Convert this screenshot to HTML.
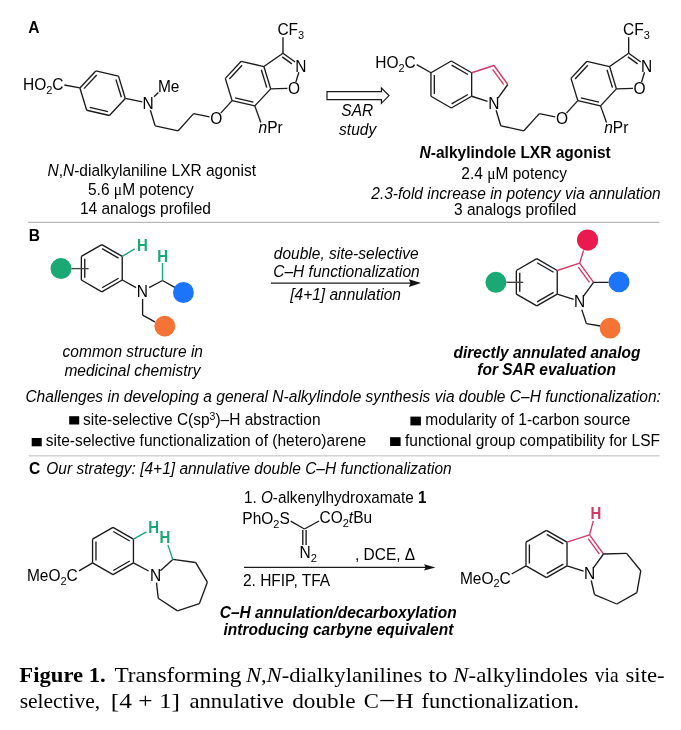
<!DOCTYPE html>
<html><head><meta charset="utf-8"><style>
html,body{margin:0;padding:0;background:#fff;}
svg{display:block;filter:blur(0.3px);}
text{font-family:"Liberation Sans",sans-serif;font-size:15.5px;fill:#000;}
.cap{font-family:"Liberation Serif",serif;font-size:22px;}
</style></head><body>
<svg width="681" height="730" viewBox="0 0 681 730">
<rect x="28" y="221.8" width="631.5" height="1" fill="#a8a8a8"/>
<rect x="28.8" y="455.1" width="630.7" height="1.4" fill="#cfcfcf"/>
<text transform="matrix(1,0,0,1.06,28.30,32.70)" style="font-size:15.6px;" font-weight="bold" >A</text>
<line x1="125.30" y1="98.44" x2="109.41" y2="115.48" stroke="#1a1a1a" stroke-width="1.35"/>
<line x1="109.41" y1="115.48" x2="86.71" y2="110.24" stroke="#1a1a1a" stroke-width="1.35"/>
<line x1="107.94" y1="111.65" x2="89.72" y2="107.45" stroke="#1a1a1a" stroke-width="1.35"/>
<line x1="86.71" y1="110.24" x2="79.90" y2="87.96" stroke="#1a1a1a" stroke-width="1.35"/>
<line x1="79.90" y1="87.96" x2="95.79" y2="70.92" stroke="#1a1a1a" stroke-width="1.35"/>
<line x1="83.95" y1="88.60" x2="96.71" y2="74.92" stroke="#1a1a1a" stroke-width="1.35"/>
<line x1="95.79" y1="70.92" x2="118.49" y2="76.16" stroke="#1a1a1a" stroke-width="1.35"/>
<line x1="118.49" y1="76.16" x2="125.30" y2="98.44" stroke="#1a1a1a" stroke-width="1.35"/>
<line x1="115.91" y1="79.35" x2="121.38" y2="97.24" stroke="#1a1a1a" stroke-width="1.35"/>
<text transform="matrix(1,0,0,1.06,23.00,90.10)" >HO<tspan font-size="11" dy="3.5">2</tspan><tspan dy="-3.5">​</tspan>C</text>
<line x1="64.40" y1="85.00" x2="79.90" y2="87.96" stroke="#1a1a1a" stroke-width="1.35"/>
<line x1="125.30" y1="98.44" x2="142.30" y2="101.80" stroke="#1a1a1a" stroke-width="1.35"/>
<line x1="154.00" y1="96.70" x2="158.40" y2="92.60" stroke="#1a1a1a" stroke-width="1.35"/>
<text transform="matrix(1,0,0,1.06,157.90,91.70)" >Me</text>
<text transform="matrix(1,0,0,1.06,148.20,109.00)" text-anchor="middle" >N</text>
<line x1="150.40" y1="110.27" x2="155.10" y2="125.80" stroke="#1a1a1a" stroke-width="1.35"/>
<line x1="155.10" y1="125.80" x2="178.20" y2="130.80" stroke="#1a1a1a" stroke-width="1.35"/>
<line x1="178.20" y1="130.80" x2="193.60" y2="113.60" stroke="#1a1a1a" stroke-width="1.35"/>
<line x1="193.60" y1="113.60" x2="209.54" y2="116.84" stroke="#1a1a1a" stroke-width="1.35"/>
<text transform="matrix(1,0,0,1.06,216.20,124.30)" text-anchor="middle" >O</text>
<line x1="270.70" y1="88.84" x2="254.81" y2="105.88" stroke="#1a1a1a" stroke-width="1.35"/>
<line x1="254.81" y1="105.88" x2="232.11" y2="100.64" stroke="#1a1a1a" stroke-width="1.35"/>
<line x1="253.34" y1="102.05" x2="235.12" y2="97.85" stroke="#1a1a1a" stroke-width="1.35"/>
<line x1="232.11" y1="100.64" x2="225.30" y2="78.36" stroke="#1a1a1a" stroke-width="1.35"/>
<line x1="225.30" y1="78.36" x2="241.19" y2="61.32" stroke="#1a1a1a" stroke-width="1.35"/>
<line x1="229.35" y1="79.00" x2="242.11" y2="65.32" stroke="#1a1a1a" stroke-width="1.35"/>
<line x1="241.19" y1="61.32" x2="263.89" y2="66.56" stroke="#1a1a1a" stroke-width="1.35"/>
<line x1="263.89" y1="66.56" x2="270.70" y2="88.84" stroke="#1a1a1a" stroke-width="1.35"/>
<line x1="261.31" y1="69.75" x2="266.78" y2="87.64" stroke="#1a1a1a" stroke-width="1.35"/>
<line x1="220.77" y1="113.16" x2="232.11" y2="100.64" stroke="#1a1a1a" stroke-width="1.35"/>
<line x1="263.89" y1="66.56" x2="282.98" y2="53.20" stroke="#1a1a1a" stroke-width="1.35"/>
<line x1="282.98" y1="53.20" x2="295.13" y2="61.99" stroke="#1a1a1a" stroke-width="1.35"/>
<line x1="282.20" y1="56.83" x2="291.92" y2="63.87" stroke="#1a1a1a" stroke-width="1.35"/>
<line x1="298.87" y1="72.31" x2="295.83" y2="82.09" stroke="#1a1a1a" stroke-width="1.35"/>
<line x1="287.40" y1="88.45" x2="270.70" y2="88.84" stroke="#1a1a1a" stroke-width="1.35"/>
<text transform="matrix(1,0,0,1.06,300.80,72.10)" text-anchor="middle" >N</text>
<text transform="matrix(1,0,0,1.06,293.90,94.20)" text-anchor="middle" >O</text>
<line x1="282.98" y1="53.20" x2="282.98" y2="37.20" stroke="#1a1a1a" stroke-width="1.35"/>
<text transform="matrix(1,0,0,1.06,277.40,35.40)" >CF<tspan font-size="11" dy="3.5">3</tspan><tspan dy="-3.5">​</tspan></text>
<line x1="254.81" y1="105.88" x2="260.80" y2="122.60" stroke="#1a1a1a" stroke-width="1.35"/>
<text transform="matrix(1,0,0,1.06,258.50,133.30)" ><tspan font-style="italic">n</tspan>Pr</text>
<g transform="translate(345.7,0)">
<text transform="matrix(1,0,0,1.06,148.20,109.00)" text-anchor="middle" >N</text>
<line x1="150.40" y1="110.27" x2="155.10" y2="125.80" stroke="#1a1a1a" stroke-width="1.35"/>
<line x1="155.10" y1="125.80" x2="178.20" y2="130.80" stroke="#1a1a1a" stroke-width="1.35"/>
<line x1="178.20" y1="130.80" x2="193.60" y2="113.60" stroke="#1a1a1a" stroke-width="1.35"/>
<line x1="193.60" y1="113.60" x2="209.54" y2="116.84" stroke="#1a1a1a" stroke-width="1.35"/>
<text transform="matrix(1,0,0,1.06,216.20,124.30)" text-anchor="middle" >O</text>
<line x1="270.70" y1="88.84" x2="254.81" y2="105.88" stroke="#1a1a1a" stroke-width="1.35"/>
<line x1="254.81" y1="105.88" x2="232.11" y2="100.64" stroke="#1a1a1a" stroke-width="1.35"/>
<line x1="253.34" y1="102.05" x2="235.12" y2="97.85" stroke="#1a1a1a" stroke-width="1.35"/>
<line x1="232.11" y1="100.64" x2="225.30" y2="78.36" stroke="#1a1a1a" stroke-width="1.35"/>
<line x1="225.30" y1="78.36" x2="241.19" y2="61.32" stroke="#1a1a1a" stroke-width="1.35"/>
<line x1="229.35" y1="79.00" x2="242.11" y2="65.32" stroke="#1a1a1a" stroke-width="1.35"/>
<line x1="241.19" y1="61.32" x2="263.89" y2="66.56" stroke="#1a1a1a" stroke-width="1.35"/>
<line x1="263.89" y1="66.56" x2="270.70" y2="88.84" stroke="#1a1a1a" stroke-width="1.35"/>
<line x1="261.31" y1="69.75" x2="266.78" y2="87.64" stroke="#1a1a1a" stroke-width="1.35"/>
<line x1="220.77" y1="113.16" x2="232.11" y2="100.64" stroke="#1a1a1a" stroke-width="1.35"/>
<line x1="263.89" y1="66.56" x2="282.98" y2="53.20" stroke="#1a1a1a" stroke-width="1.35"/>
<line x1="282.98" y1="53.20" x2="295.13" y2="61.99" stroke="#1a1a1a" stroke-width="1.35"/>
<line x1="282.20" y1="56.83" x2="291.92" y2="63.87" stroke="#1a1a1a" stroke-width="1.35"/>
<line x1="298.87" y1="72.31" x2="295.83" y2="82.09" stroke="#1a1a1a" stroke-width="1.35"/>
<line x1="287.40" y1="88.45" x2="270.70" y2="88.84" stroke="#1a1a1a" stroke-width="1.35"/>
<text transform="matrix(1,0,0,1.06,300.80,72.10)" text-anchor="middle" >N</text>
<text transform="matrix(1,0,0,1.06,293.90,94.20)" text-anchor="middle" >O</text>
<line x1="282.98" y1="53.20" x2="282.98" y2="37.20" stroke="#1a1a1a" stroke-width="1.35"/>
<text transform="matrix(1,0,0,1.06,277.40,35.40)" >CF<tspan font-size="11" dy="3.5">3</tspan><tspan dy="-3.5">​</tspan></text>
<line x1="254.81" y1="105.88" x2="260.80" y2="122.60" stroke="#1a1a1a" stroke-width="1.35"/>
<text transform="matrix(1,0,0,1.06,258.50,133.30)" ><tspan font-style="italic">n</tspan>Pr</text>
</g>
<polygon points="327,91.6 381.4,91.6 381.4,88 389,95.6 381.4,103.3 381.4,99.6 327,99.6" fill="#fff" stroke="#1a1a1a" stroke-width="1.2" stroke-linejoin="miter"/>
<text transform="matrix(1,0,0,1.06,357.30,116.40)" font-style="italic" text-anchor="middle" >SAR</text>
<text transform="matrix(1,0,0,1.06,357.60,134.60)" font-style="italic" text-anchor="middle" >study</text>
<line x1="451.30" y1="61.00" x2="471.65" y2="72.75" stroke="#1a1a1a" stroke-width="1.35"/>
<line x1="451.59" y1="65.09" x2="467.96" y2="74.54" stroke="#1a1a1a" stroke-width="1.35"/>
<line x1="471.65" y1="72.75" x2="471.65" y2="96.25" stroke="#1a1a1a" stroke-width="1.35"/>
<line x1="471.65" y1="96.25" x2="451.30" y2="108.00" stroke="#1a1a1a" stroke-width="1.35"/>
<line x1="467.96" y1="94.46" x2="451.59" y2="103.91" stroke="#1a1a1a" stroke-width="1.35"/>
<line x1="451.30" y1="108.00" x2="430.95" y2="96.25" stroke="#1a1a1a" stroke-width="1.35"/>
<line x1="430.95" y1="96.25" x2="430.95" y2="72.75" stroke="#1a1a1a" stroke-width="1.35"/>
<line x1="434.35" y1="93.95" x2="434.35" y2="75.05" stroke="#1a1a1a" stroke-width="1.35"/>
<line x1="430.95" y1="72.75" x2="451.30" y2="61.00" stroke="#1a1a1a" stroke-width="1.35"/>
<text transform="matrix(1,0,0,1.06,415.80,68.00)" text-anchor="end" >HO<tspan font-size="11" dy="3.5">2</tspan><tspan dy="-3.5">​</tspan>C</text>
<line x1="416.70" y1="64.70" x2="430.95" y2="72.75" stroke="#1a1a1a" stroke-width="1.35"/>
<line x1="471.65" y1="72.75" x2="494.00" y2="65.49" stroke="#d03a66" stroke-width="1.35"/>
<line x1="494.00" y1="65.49" x2="507.81" y2="84.50" stroke="#d03a66" stroke-width="1.35"/>
<line x1="492.60" y1="69.35" x2="503.71" y2="84.64" stroke="#d03a66" stroke-width="1.35"/>
<line x1="507.81" y1="84.50" x2="498.12" y2="97.85" stroke="#1a1a1a" stroke-width="1.35"/>
<line x1="471.65" y1="96.25" x2="487.53" y2="101.41" stroke="#1a1a1a" stroke-width="1.35"/>
<text transform="matrix(1,0,0,1.06,151.70,176.30)" text-anchor="middle" ><tspan font-style="italic">N</tspan>,<tspan font-style="italic">N</tspan>-dialkylaniline LXR agonist</text>
<text transform="matrix(1,0,0,1.06,140.80,194.50)" text-anchor="middle" >5.6 <tspan font-family="Liberation Serif">μ</tspan>M potency</text>
<text transform="matrix(1,0,0,1.06,145.40,214.40)" text-anchor="middle" >14 analogs profiled</text>
<text transform="matrix(1,0,0,1.06,515.20,158.00)" font-weight="bold" text-anchor="middle" ><tspan font-style="italic">N</tspan>-alkylindole LXR agonist</text>
<text transform="matrix(1,0,0,1.06,514.20,179.40)" text-anchor="middle" >2.4 <tspan font-family="Liberation Serif">μ</tspan>M potency</text>
<text transform="matrix(1,0,0,1.06,516.00,198.50)" font-style="italic" text-anchor="middle" >2.3-fold increase in potency via annulation</text>
<text transform="matrix(1,0,0,1.06,515.20,214.90)" text-anchor="middle" >3 analogs profiled</text>
<text transform="matrix(1,0,0,1.06,28.80,240.80)" style="font-size:15.6px;" font-weight="bold" >B</text>
<line x1="101.80" y1="244.60" x2="122.24" y2="256.40" stroke="#1a1a1a" stroke-width="1.35"/>
<line x1="102.09" y1="248.69" x2="118.55" y2="258.19" stroke="#1a1a1a" stroke-width="1.35"/>
<line x1="122.24" y1="256.40" x2="122.24" y2="280.00" stroke="#1a1a1a" stroke-width="1.35"/>
<line x1="122.24" y1="280.00" x2="101.80" y2="291.80" stroke="#1a1a1a" stroke-width="1.35"/>
<line x1="118.55" y1="278.21" x2="102.09" y2="287.71" stroke="#1a1a1a" stroke-width="1.35"/>
<line x1="101.80" y1="291.80" x2="81.36" y2="280.00" stroke="#1a1a1a" stroke-width="1.35"/>
<line x1="81.36" y1="280.00" x2="81.36" y2="256.40" stroke="#1a1a1a" stroke-width="1.35"/>
<line x1="84.76" y1="277.70" x2="84.76" y2="258.70" stroke="#1a1a1a" stroke-width="1.35"/>
<line x1="81.36" y1="256.40" x2="101.80" y2="244.60" stroke="#1a1a1a" stroke-width="1.35"/>
<circle cx="61.00" cy="268.60" r="10.50" fill="#1aa874"/>
<line x1="71.50" y1="268.60" x2="88.60" y2="268.60" stroke="#444" stroke-width="1.35"/>
<line x1="122.24" y1="256.40" x2="134.70" y2="248.80" stroke="#1aa874" stroke-width="1.35"/>
<text transform="matrix(1,0,0,1.06,142.30,250.70)" style="font-size:15px;fill:#1aa874;" font-weight="bold" text-anchor="middle" >H</text>
<line x1="122.24" y1="280.00" x2="136.10" y2="287.60" stroke="#1a1a1a" stroke-width="1.35"/>
<text transform="matrix(1,0,0,1.06,142.30,297.10)" text-anchor="middle" >N</text>
<line x1="149.10" y1="287.60" x2="162.50" y2="280.50" stroke="#1a1a1a" stroke-width="1.35"/>
<line x1="162.50" y1="280.50" x2="162.50" y2="263.00" stroke="#1aa874" stroke-width="1.35"/>
<text transform="matrix(1,0,0,1.06,162.70,262.20)" style="font-size:15px;fill:#1aa874;" font-weight="bold" text-anchor="middle" >H</text>
<line x1="162.50" y1="280.50" x2="175.20" y2="287.60" stroke="#1a1a1a" stroke-width="1.35"/>
<circle cx="183.40" cy="292.50" r="10.45" fill="#1c74fb"/>
<line x1="142.60" y1="299.00" x2="142.60" y2="315.20" stroke="#1a1a1a" stroke-width="1.35"/>
<line x1="142.60" y1="315.20" x2="154.90" y2="321.90" stroke="#1a1a1a" stroke-width="1.35"/>
<circle cx="164.80" cy="326.20" r="10.40" fill="#f47335"/>
<line x1="536.80" y1="258.70" x2="557.24" y2="270.50" stroke="#1a1a1a" stroke-width="1.35"/>
<line x1="537.09" y1="262.79" x2="553.55" y2="272.29" stroke="#1a1a1a" stroke-width="1.35"/>
<line x1="557.24" y1="270.50" x2="557.24" y2="294.10" stroke="#1a1a1a" stroke-width="1.35"/>
<line x1="557.24" y1="294.10" x2="536.80" y2="305.90" stroke="#1a1a1a" stroke-width="1.35"/>
<line x1="553.55" y1="292.31" x2="537.09" y2="301.81" stroke="#1a1a1a" stroke-width="1.35"/>
<line x1="536.80" y1="305.90" x2="516.36" y2="294.10" stroke="#1a1a1a" stroke-width="1.35"/>
<line x1="516.36" y1="294.10" x2="516.36" y2="270.50" stroke="#1a1a1a" stroke-width="1.35"/>
<line x1="519.76" y1="291.80" x2="519.76" y2="272.80" stroke="#1a1a1a" stroke-width="1.35"/>
<line x1="516.36" y1="270.50" x2="536.80" y2="258.70" stroke="#1a1a1a" stroke-width="1.35"/>
<circle cx="495.90" cy="282.30" r="10.50" fill="#1aa874"/>
<line x1="506.40" y1="282.30" x2="523.20" y2="282.30" stroke="#444" stroke-width="1.35"/>
<line x1="557.24" y1="270.50" x2="579.68" y2="263.21" stroke="#d03a66" stroke-width="1.35"/>
<line x1="579.68" y1="263.21" x2="593.55" y2="282.30" stroke="#d03a66" stroke-width="1.35"/>
<line x1="578.28" y1="267.07" x2="589.45" y2="282.44" stroke="#d03a66" stroke-width="1.35"/>
<line x1="579.68" y1="263.21" x2="583.50" y2="250.50" stroke="#d03a66" stroke-width="1.35"/>
<circle cx="587.60" cy="240.10" r="10.60" fill="#e81a4e"/>
<line x1="593.55" y1="282.30" x2="583.50" y2="296.13" stroke="#1a1a1a" stroke-width="1.35"/>
<line x1="557.24" y1="294.10" x2="573.69" y2="299.45" stroke="#1a1a1a" stroke-width="1.35"/>
<text transform="matrix(1,0,0,1.06,579.68,307.09)" text-anchor="middle" >N</text>
<line x1="593.55" y1="282.30" x2="608.60" y2="282.40" stroke="#1a1a1a" stroke-width="1.35"/>
<circle cx="619.00" cy="281.90" r="10.45" fill="#1c74fb"/>
<line x1="581.80" y1="309.60" x2="586.40" y2="323.60" stroke="#1a1a1a" stroke-width="1.35"/>
<line x1="586.40" y1="323.60" x2="600.40" y2="326.00" stroke="#1a1a1a" stroke-width="1.35"/>
<circle cx="610.10" cy="328.10" r="10.40" fill="#f47335"/>
<line x1="270.90" y1="283.10" x2="412.00" y2="283.10" stroke="#1a1a1a" stroke-width="1.3"/>
<polygon points="421,283.1 408.8,279.3 410.5,283.1 408.8,286.9" fill="#111"/>
<text transform="matrix(1,0,0,1.06,346.20,259.20)" font-style="italic" text-anchor="middle" >double, site-selective</text>
<text transform="matrix(1,0,0,1.06,346.50,276.70)" font-style="italic" text-anchor="middle" >C–H functionalization</text>
<text transform="matrix(1,0,0,1.06,345.60,299.90)" font-style="italic" text-anchor="middle" >[4+1] annulation</text>
<text transform="matrix(1,0,0,1.06,132.80,357.40)" font-style="italic" text-anchor="middle" >common structure in</text>
<text transform="matrix(1,0,0,1.06,132.50,375.70)" font-style="italic" text-anchor="middle" >medicinal chemistry</text>
<text transform="matrix(1,0,0,1.06,547.00,358.20)" font-weight="bold" font-style="italic" text-anchor="middle" >directly annulated analog</text>
<text transform="matrix(1,0,0,1.06,546.60,375.00)" font-weight="bold" font-style="italic" text-anchor="middle" >for SAR evaluation</text>
<text transform="matrix(1,0,0,1.06,25.40,401.90)" font-style="italic" textLength="635.5" lengthAdjust="spacingAndGlyphs">Challenges in developing a general N-alkylindole synthesis via double C–H functionalization:</text>
<rect x="69.2" y="416.2" width="10" height="8.3" fill="#000"/>
<text transform="matrix(1,0,0,1.06,83.00,425.20)" >site-selective C(sp<tspan font-size="10.5" dy="-5">3</tspan><tspan dy="5">)–H abstraction</tspan></text>
<rect x="31.7" y="438" width="10" height="8.3" fill="#000"/>
<text transform="matrix(1,0,0,1.06,45.70,446.20)" >site-selective functionalization of (hetero)arene</text>
<rect x="410.4" y="416.6" width="10.5" height="8.8" fill="#000"/>
<rect x="390.1" y="437.2" width="10.5" height="8.8" fill="#000"/>
<text transform="matrix(1,0,0,1.06,630.30,425.00)" text-anchor="end" >modularity of 1-carbon source</text>
<text transform="matrix(1,0,0,1.06,660.00,446.20)" text-anchor="end" >functional group compatibility for LSF</text>
<text transform="matrix(1,0,0,1.06,28.90,474.30)" style="font-size:15.6px;" font-weight="bold" >C</text>
<text transform="matrix(1,0,0,1.06,46.30,474.40)" font-style="italic" >Our strategy: [4+1] annulative double C–H functionalization</text>
<line x1="113.00" y1="527.40" x2="133.44" y2="539.20" stroke="#1a1a1a" stroke-width="1.35"/>
<line x1="113.29" y1="531.49" x2="129.75" y2="540.99" stroke="#1a1a1a" stroke-width="1.35"/>
<line x1="133.44" y1="539.20" x2="133.44" y2="562.80" stroke="#1a1a1a" stroke-width="1.35"/>
<line x1="133.44" y1="562.80" x2="113.00" y2="574.60" stroke="#1a1a1a" stroke-width="1.35"/>
<line x1="129.75" y1="561.01" x2="113.29" y2="570.51" stroke="#1a1a1a" stroke-width="1.35"/>
<line x1="113.00" y1="574.60" x2="92.56" y2="562.80" stroke="#1a1a1a" stroke-width="1.35"/>
<line x1="92.56" y1="562.80" x2="92.56" y2="539.20" stroke="#1a1a1a" stroke-width="1.35"/>
<line x1="95.96" y1="560.50" x2="95.96" y2="541.50" stroke="#1a1a1a" stroke-width="1.35"/>
<line x1="92.56" y1="539.20" x2="113.00" y2="527.40" stroke="#1a1a1a" stroke-width="1.35"/>
<text transform="matrix(1,0,0,1.06,26.90,581.20)" >MeO<tspan font-size="11" dy="3.5">2</tspan><tspan dy="-3.5">​</tspan>C</text>
<line x1="79.00" y1="570.80" x2="92.56" y2="562.80" stroke="#1a1a1a" stroke-width="1.35"/>
<line x1="133.44" y1="539.20" x2="146.40" y2="531.80" stroke="#1aa874" stroke-width="1.35"/>
<text transform="matrix(1,0,0,1.06,153.70,533.30)" style="font-size:15px;fill:#1aa874;" font-weight="bold" text-anchor="middle" >H</text>
<line x1="133.44" y1="562.80" x2="148.60" y2="571.00" stroke="#1a1a1a" stroke-width="1.35"/>
<text transform="matrix(1,0,0,1.06,155.60,580.90)" text-anchor="middle" >N</text>
<line x1="160.40" y1="570.72" x2="172.78" y2="559.41" stroke="#1a1a1a" stroke-width="1.35"/>
<line x1="172.78" y1="559.41" x2="195.57" y2="562.47" stroke="#1a1a1a" stroke-width="1.35"/>
<line x1="195.57" y1="562.47" x2="207.39" y2="582.19" stroke="#1a1a1a" stroke-width="1.35"/>
<line x1="207.39" y1="582.19" x2="199.34" y2="603.73" stroke="#1a1a1a" stroke-width="1.35"/>
<line x1="199.34" y1="603.73" x2="177.48" y2="610.86" stroke="#1a1a1a" stroke-width="1.35"/>
<line x1="177.48" y1="610.86" x2="158.27" y2="598.22" stroke="#1a1a1a" stroke-width="1.35"/>
<line x1="158.27" y1="598.22" x2="156.46" y2="582.55" stroke="#1a1a1a" stroke-width="1.35"/>
<line x1="172.78" y1="559.41" x2="167.90" y2="544.90" stroke="#1aa874" stroke-width="1.35"/>
<text transform="matrix(1,0,0,1.06,164.80,543.10)" style="font-size:15px;fill:#1aa874;" font-weight="bold" text-anchor="middle" >H</text>
<text transform="matrix(1,0,0,1.06,244.00,502.90)" textLength="182.5" lengthAdjust="spacingAndGlyphs">1. <tspan font-style="italic">O</tspan>-alkenylhydroxamate <tspan font-weight="bold">1</tspan></text>
<text transform="matrix(1,0,0,1.06,242.30,523.90)" >PhO<tspan font-size="11" dy="3.5">2</tspan><tspan dy="-3.5">​</tspan>S</text>
<line x1="290.70" y1="521.20" x2="304.40" y2="529.00" stroke="#1a1a1a" stroke-width="1.35"/>
<line x1="304.40" y1="529.00" x2="319.10" y2="521.00" stroke="#1a1a1a" stroke-width="1.35"/>
<text transform="matrix(1,0,0,1.06,319.50,523.10)" >CO<tspan font-size="11" dy="3.5">2</tspan><tspan dy="-3.5">​</tspan><tspan font-style="italic">t</tspan>Bu</text>
<line x1="302.80" y1="530.00" x2="302.80" y2="545.00" stroke="#1a1a1a" stroke-width="1.35"/>
<line x1="306.10" y1="530.00" x2="306.10" y2="545.00" stroke="#1a1a1a" stroke-width="1.35"/>
<text transform="matrix(1,0,0,1.06,299.50,558.00)" >N<tspan font-size="11" dy="3.5">2</tspan><tspan dy="-3.5">​</tspan></text>
<text transform="matrix(1,0,0,1.06,354.90,559.50)" >, DCE, Δ</text>
<line x1="244.00" y1="567.45" x2="427.00" y2="567.45" stroke="#1a1a1a" stroke-width="1.3"/>
<polygon points="435.4,567.45 424.1,564.3 425.6,567.45 424.1,570.6" fill="#111"/>
<text transform="matrix(1,0,0,1.06,242.90,586.30)" >2. HFIP, TFA</text>
<text transform="matrix(1,0,0,1.06,338.20,617.70)" font-weight="bold" font-style="italic" text-anchor="middle" >C–H annulation/decarboxylation</text>
<text transform="matrix(1,0,0,1.06,338.40,635.30)" font-weight="bold" font-style="italic" text-anchor="middle" >introducing carbyne equivalent</text>
<line x1="546.50" y1="530.30" x2="567.02" y2="542.15" stroke="#1a1a1a" stroke-width="1.35"/>
<line x1="546.79" y1="534.39" x2="563.33" y2="543.94" stroke="#1a1a1a" stroke-width="1.35"/>
<line x1="567.02" y1="542.15" x2="567.02" y2="565.85" stroke="#1a1a1a" stroke-width="1.35"/>
<line x1="567.02" y1="565.85" x2="546.50" y2="577.70" stroke="#1a1a1a" stroke-width="1.35"/>
<line x1="563.33" y1="564.06" x2="546.79" y2="573.61" stroke="#1a1a1a" stroke-width="1.35"/>
<line x1="546.50" y1="577.70" x2="525.98" y2="565.85" stroke="#1a1a1a" stroke-width="1.35"/>
<line x1="525.98" y1="565.85" x2="525.98" y2="542.15" stroke="#1a1a1a" stroke-width="1.35"/>
<line x1="529.38" y1="563.55" x2="529.38" y2="544.45" stroke="#1a1a1a" stroke-width="1.35"/>
<line x1="525.98" y1="542.15" x2="546.50" y2="530.30" stroke="#1a1a1a" stroke-width="1.35"/>
<text transform="matrix(1,0,0,1.06,459.90,583.50)" >MeO<tspan font-size="11" dy="3.5">2</tspan><tspan dy="-3.5">​</tspan>C</text>
<line x1="511.70" y1="574.00" x2="525.98" y2="565.85" stroke="#1a1a1a" stroke-width="1.35"/>
<line x1="567.02" y1="542.15" x2="589.56" y2="534.83" stroke="#d03a66" stroke-width="1.35"/>
<line x1="589.56" y1="534.83" x2="603.50" y2="554.00" stroke="#d03a66" stroke-width="1.35"/>
<line x1="588.17" y1="538.69" x2="599.39" y2="554.14" stroke="#d03a66" stroke-width="1.35"/>
<line x1="589.56" y1="534.83" x2="593.30" y2="520.80" stroke="#d03a66" stroke-width="1.35"/>
<text transform="matrix(1,0,0,1.06,595.90,518.70)" style="font-size:15px;fill:#d03a66;" font-weight="bold" text-anchor="middle" >H</text>
<line x1="603.50" y1="554.00" x2="593.39" y2="567.92" stroke="#1a1a1a" stroke-width="1.35"/>
<line x1="567.02" y1="565.85" x2="583.57" y2="571.23" stroke="#1a1a1a" stroke-width="1.35"/>
<text transform="matrix(1,0,0,1.06,589.56,578.87)" text-anchor="middle" >N</text>
<line x1="603.50" y1="554.00" x2="626.60" y2="553.40" stroke="#1a1a1a" stroke-width="1.35"/>
<line x1="626.60" y1="553.40" x2="640.80" y2="570.70" stroke="#1a1a1a" stroke-width="1.35"/>
<line x1="640.80" y1="570.70" x2="636.90" y2="592.60" stroke="#1a1a1a" stroke-width="1.35"/>
<line x1="636.90" y1="592.60" x2="616.80" y2="604.00" stroke="#1a1a1a" stroke-width="1.35"/>
<line x1="616.80" y1="604.00" x2="594.50" y2="594.70" stroke="#1a1a1a" stroke-width="1.35"/>
<line x1="594.50" y1="594.70" x2="591.24" y2="580.48" stroke="#1a1a1a" stroke-width="1.35"/>
<rect x="380.2" y="699.9" width="14" height="1.3" fill="#000"/>
<text x="19.3" y="682.2" class="cap" textLength="86.5" lengthAdjust="spacingAndGlyphs"><tspan font-weight="bold">Figure 1.</tspan></text>
<text x="114.4" y="682.2" class="cap" textLength="127.0" lengthAdjust="spacingAndGlyphs">Transforming</text>
<text x="245.9" y="682.2" class="cap" textLength="176.3" lengthAdjust="spacingAndGlyphs"><tspan font-style="italic">N</tspan>,<tspan font-style="italic">N</tspan>-dialkylanilines</text>
<text x="428.4" y="682.2" class="cap" textLength="19.0" lengthAdjust="spacingAndGlyphs">to</text>
<text x="453.3" y="682.2" class="cap" textLength="134.6" lengthAdjust="spacingAndGlyphs"><tspan font-style="italic">N</tspan>-alkylindoles</text>
<text x="594.8" y="682.2" class="cap" textLength="23.8" lengthAdjust="spacingAndGlyphs">via</text>
<text x="625.5" y="682.2" class="cap" textLength="39.1" lengthAdjust="spacingAndGlyphs">site-</text>
<text x="19.7" y="707.8" class="cap" textLength="80.5" lengthAdjust="spacingAndGlyphs">selective,</text>
<text x="110.7" y="707.8" class="cap" textLength="69.4" lengthAdjust="spacingAndGlyphs">[4 + 1]</text>
<text x="189.4" y="707.8" class="cap" textLength="94.3" lengthAdjust="spacingAndGlyphs">annulative</text>
<text x="292.2" y="707.8" class="cap" textLength="63.4" lengthAdjust="spacingAndGlyphs">double</text>
<text x="363.8" y="707.8" class="cap" textLength="15.1" lengthAdjust="spacingAndGlyphs">C</text>
<text x="395.6" y="707.8" class="cap" textLength="18.3" lengthAdjust="spacingAndGlyphs">H</text>
<text x="421.6" y="707.8" class="cap" textLength="157.5" lengthAdjust="spacingAndGlyphs">functionalization.</text>
</svg>
</body></html>
